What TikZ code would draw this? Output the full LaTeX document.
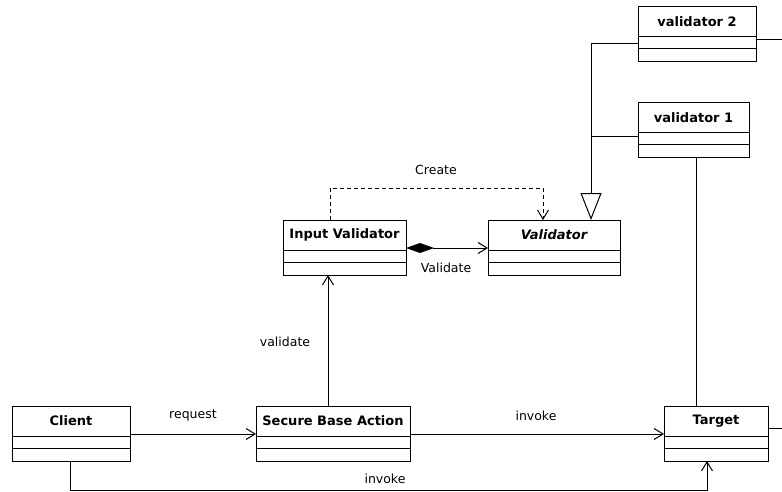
\documentclass[tikz,border=0pt]{standalone}
\usepackage{fontspec}
\setmainfont{DejaVu Sans}
\usetikzlibrary{arrows.meta,calc}

\tikzset{
  x=1pt, y=-1pt,
  classbox/.style={draw, line width=1pt, inner sep=0pt, outer sep=0pt, fill=white},
  classname/.style={font=\fontsize{13}{15}\selectfont\bfseries, inner sep=0pt},
  classline/.style={line width=1pt},
  conn/.style={line width=1pt},
  opentip/.style={-{Straight Barb[length=9pt,width=11pt,line width=1pt]}},
  lbl/.style={font=\fontsize{12.5}{14}\selectfont, inner sep=0pt},
}

% \umlclass{name}{left}{top}{right}{bottom}{title}
\newcommand\umlclass[6]{%
  \node[classbox, minimum width={(#4-#2)*1pt}, minimum height={(#5-#3)*1pt}]
    (#1) at ({(#2+#4)/2},{(#3+#5)/2}) {};
  \node[classname] (#1-name) at ($(#1.north)+(0,15)$) {#6};
  \draw[classline] ($(#1.north west)+(0,30)$) -- ($(#1.north east)+(0,30)$);
  \draw[classline] ($(#1.north west)+(0,42)$) -- ($(#1.north east)+(0,42)$);
}

\begin{document}
\begin{tikzpicture}
\useasboundingbox (0,0) rectangle (782,492);

% classes
\umlclass{v2}{638}{7}{756}{62}{validator 2}
\umlclass{v1}{638}{103}{749}{158}{validator 1}
\umlclass{val}{488}{220}{620}{275}{\itshape Validator}
\umlclass{iv}{283}{220}{406}{275}{Input Validator}
\umlclass{client}{12}{406}{130}{461}{Client}
\umlclass{sba}{256}{406}{410}{461}{Secure Base Action}
\umlclass{tgt}{664}{406}{768}{461}{Target}

% helper points for the routed connectors
\coordinate (v2out) at (782,40);
\coordinate (tgtout) at (782,428);
\coordinate (gtop) at (591,44);
\coordinate (gmid) at (591,137);
\coordinate (vt) at (696,0);
\coordinate (crA) at (330,188);
\coordinate (crB) at (543,188);
\coordinate (agg) at (0,248);
\coordinate (vx) at (328,0);
\coordinate (req) at (0,434);
\coordinate (cbA) at (70,490);
\coordinate (cbB) at (707,490);

% links leaving the picture on the right
\draw[conn] (v2.east |- v2out) -- (v2out);
\draw[conn] (tgt.east |- tgtout) -- (tgtout);

% generalization of validator 1 and validator 2
\draw[conn, -{Triangle[open, length=27pt, width=21pt, line width=1pt, fill=white]}]
  (v2.west |- gtop) -- (gtop) -- (gtop |- val.north);
\draw[conn] (v1.west |- gmid) -- (gmid);

% validator 1 -- Target
\draw[conn] (v1.south -| vt) -- (tgt.north -| vt);

% Create dependency
\draw[conn, dash pattern=on 4pt off 3pt, opentip] (iv.north -| crA) -- (crA) -- (crB) -- (val.north -| crB);
\node[lbl] (create) at (436,170) {Create};

% composition Input Validator -> Validator
\draw[conn, {Diamond[length=28pt,width=10pt]}-{Straight Barb[length=9pt,width=11pt,line width=1pt]}]
  (iv.east |- agg) -- (val.west |- agg);
\node[lbl] (validateB) at (446,268) {Validate};

% Secure Base Action -> Input Validator
\draw[conn, opentip] (sba.north -| vx) -- (iv.south -| vx);
\node[lbl] (validateA) at (285,342) {validate};

% Client -> Secure Base Action
\draw[conn, opentip] (client.east |- req) -- (sba.west |- req);
\node[lbl] (request) at (193,415) {request};

% Secure Base Action -> Target
\draw[conn, opentip] (sba.east |- req) -- (tgt.west |- req);
\node[lbl] (invokeA) at (536,416) {invoke};

% Client -> Target
\draw[conn, opentip] (client.south -| cbA) -- (cbA) -- (cbB) -- (tgt.south -| cbB);
\node[lbl] (invokeB) at (385,479) {invoke};
\end{tikzpicture}
\end{document}
